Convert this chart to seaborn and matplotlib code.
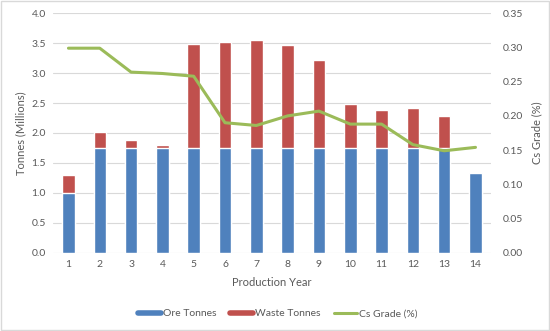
import matplotlib
matplotlib.use("Agg")
import matplotlib.pyplot as plt
import seaborn as sns
import pandas as pd
import numpy as np
from matplotlib.patches import Rectangle
from matplotlib.lines import Line2D

years = [str(i) for i in range(1, 15)]
ore_tonnes = [1.00, 1.75, 1.75, 1.75, 1.75, 1.75, 1.75, 1.75, 1.75, 1.75, 1.75, 1.75, 1.75, 1.33]
waste_tonnes = [0.30, 0.27, 0.13, 0.05, 1.73, 1.77, 1.81, 1.72, 1.47, 0.73, 0.64, 0.66, 0.54, 0.0]
cs_grade = [0.299, 0.299, 0.264, 0.262, 0.258, 0.190, 0.186, 0.200, 0.207, 0.188, 0.188, 0.158, 0.149, 0.154]

df = pd.DataFrame({"Year": years, "Ore": ore_tonnes, "Waste": waste_tonnes, "Grade": cs_grade})
df["Total"] = df["Ore"] + df["Waste"]
df["pos"] = np.arange(len(df))

sns.set_theme(style="white")
plt.rcParams["font.family"] = ["Lato", "DejaVu Sans"]

blue = "#4F81BD"
red = "#C0504D"
green = "#9BBB59"
txt = "#595959"

fig = plt.figure(figsize=(5.5, 3.31), dpi=100)
ax = fig.add_axes([0.096, 0.2366, 0.797, 0.7232])

sns.barplot(data=df, x="Year", y="Total", color=red, width=0.4, saturation=1, ax=ax, zorder=2)
sns.barplot(data=df, x="Year", y="Ore", color=blue, width=0.4, saturation=1, ax=ax, zorder=3)

ax.set_ylim(0, 4.0)
ax.set_yticks(np.arange(0, 4.01, 0.5))
ax.set_yticklabels([f"{v:.1f}" for v in np.arange(0, 4.01, 0.5)])
ax.set_xlim(-0.5, 13.5)
ax.grid(axis="y", color="#D9D9D9", linewidth=0.8, zorder=0)
ax.set_axisbelow(True)
for s in ax.spines.values():
    s.set_visible(False)
ax.set_ylabel("Tonnes (Millions)", fontsize=8, color=txt)
ax.set_xlabel("Production Year", fontsize=8, color=txt, labelpad=6)
ax.tick_params(axis="both", labelsize=7.5, colors=txt, length=0, pad=5)

ax2 = ax.twinx()
sns.lineplot(data=df, x="pos", y="Grade", color=green, linewidth=2.2, ax=ax2, zorder=4)
ax2.set_ylim(0, 0.35)
ax2.set_yticks(np.arange(0, 0.351, 0.05))
ax2.set_yticklabels([f"{v:.2f}" for v in np.arange(0, 0.351, 0.05)])
ax2.set_xlim(-0.5, 13.5)
for s in ax2.spines.values():
    s.set_visible(False)
ax2.set_ylabel("Cs Grade (%)", fontsize=8, color=txt, labelpad=6)
ax2.tick_params(axis="both", labelsize=7.5, colors=txt, length=0, pad=8)

handles = [
    Line2D([0], [0], color=blue, linewidth=4),
    Line2D([0], [0], color=red, linewidth=4),
    Line2D([0], [0], color=green, linewidth=2.2),
]
leg = fig.legend(handles, ["Ore Tonnes", "Waste Tonnes", "Cs Grade (%)"], loc="center",
                 bbox_to_anchor=(0.505, 0.052), ncol=3, frameon=False, fontsize=7.5,
                 handlelength=2.2, handletextpad=0.2, columnspacing=1.3)
for t in leg.get_texts():
    t.set_color(txt)

fig.patches.append(Rectangle((0.002, 0.003), 0.996, 0.994, transform=fig.transFigure,
                             fill=False, edgecolor="#D9D9D9", linewidth=1))

fig.savefig("out.png", dpi=100)
